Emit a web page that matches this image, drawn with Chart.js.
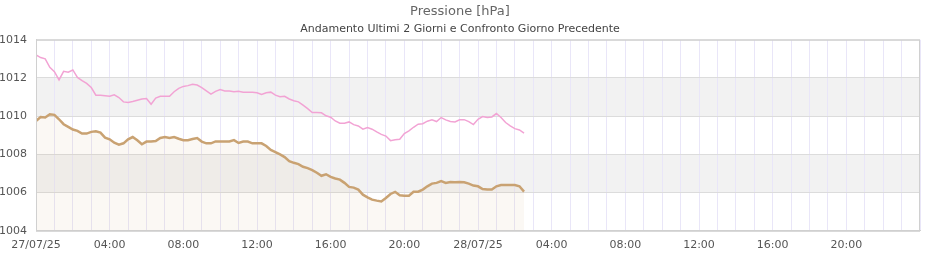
<!DOCTYPE html>
<html>
<head>
<meta charset="utf-8">
<script src="https://cdn.jsdelivr.net/npm/chart.js@4/dist/chart.umd.min.js"></script>
<style>
html,body{margin:0;padding:0;background:#fff}
#wrap{width:940px;height:260px}
</style>
</head>
<body>
<div id="wrap"><canvas id="chart"></canvas></div>
<script>
// pressure samples every 15 min starting 27/07/25 00:00
const STEP_H = 0.25;
const current = [1009.75,1009.96,1009.93,1010.10,1010.07,1009.84,1009.58,1009.44,1009.30,1009.23,
  1009.09,1009.09,1009.18,1009.21,1009.14,1008.88,1008.79,1008.61,1008.51,1008.58,
  1008.79,1008.91,1008.74,1008.53,1008.67,1008.68,1008.70,1008.86,1008.91,1008.86,
  1008.91,1008.82,1008.74,1008.74,1008.81,1008.86,1008.67,1008.58,1008.58,1008.68,
  1008.68,1008.68,1008.68,1008.75,1008.60,1008.67,1008.67,1008.58,1008.58,1008.58,
  1008.44,1008.23,1008.12,1008.00,1007.86,1007.65,1007.56,1007.49,1007.35,1007.28,
  1007.18,1007.04,1006.88,1006.96,1006.82,1006.74,1006.68,1006.51,1006.30,1006.26,
  1006.16,1005.89,1005.75,1005.63,1005.58,1005.54,1005.72,1005.93,1006.04,1005.86,
  1005.84,1005.84,1006.04,1006.05,1006.16,1006.33,1006.47,1006.51,1006.60,1006.51,
  1006.56,1006.54,1006.56,1006.54,1006.47,1006.37,1006.33,1006.19,1006.16,1006.16,
  1006.33,1006.40,1006.40,1006.40,1006.40,1006.33,1006.05];
const previous = [1013.21,1013.07,1013.00,1012.56,1012.33,1011.90,1012.35,1012.30,1012.42,1012.03,
  1011.86,1011.72,1011.50,1011.10,1011.10,1011.07,1011.04,1011.12,1010.98,1010.75,
  1010.72,1010.77,1010.84,1010.90,1010.93,1010.63,1010.95,1011.04,1011.04,1011.04,
  1011.28,1011.46,1011.56,1011.60,1011.67,1011.63,1011.50,1011.33,1011.16,1011.30,
  1011.39,1011.32,1011.32,1011.28,1011.30,1011.26,1011.25,1011.25,1011.23,1011.14,
  1011.23,1011.26,1011.10,1011.02,1011.04,1010.90,1010.81,1010.75,1010.58,1010.40,
  1010.19,1010.19,1010.18,1010.02,1009.95,1009.75,1009.63,1009.63,1009.70,1009.56,
  1009.49,1009.32,1009.40,1009.32,1009.18,1009.05,1008.96,1008.72,1008.77,1008.79,
  1009.09,1009.23,1009.42,1009.58,1009.61,1009.74,1009.81,1009.72,1009.93,1009.81,
  1009.72,1009.70,1009.81,1009.82,1009.72,1009.56,1009.84,1009.98,1009.93,1009.96,
  1010.14,1009.93,1009.67,1009.49,1009.35,1009.28,1009.11];
const yTicks = [1004,1006,1008,1010,1012,1014];
const bands = [[1006,1008],[1010,1012]];
const dayLabels = {0:"27/07/25",24:"28/07/25"};

const pts = arr => arr.map((v,i)=>({x:i*STEP_H,y:v}));

const bandPlugin = {
  id:"bands",
  beforeDraw(c){
    const {ctx,chartArea:a,scales:{y}} = c;
    ctx.save(); ctx.fillStyle="#f2f2f2";
    bands.forEach(b=>{const t=y.getPixelForValue(b[1]),bt=y.getPixelForValue(b[0]);ctx.fillRect(a.left,t,a.right-a.left,bt-t)});
    ctx.restore();
  }
};

new Chart(document.getElementById("chart"),{
  type:"line",
  data:{datasets:[
    {label:"Giorno precedente",data:pts(previous),borderColor:"#f2a3d4",borderWidth:1.5,pointRadius:0,tension:0,fill:false},
    {label:"Pressione",data:pts(current),borderColor:"#c9a272",borderWidth:2.5,pointRadius:0,tension:0,fill:"start",backgroundColor:"rgba(205,165,120,0.08)"}
  ]},
  options:{
    responsive:true,maintainAspectRatio:false,animation:false,
    layout:{padding:{left:0,right:20,top:0,bottom:0}},
    plugins:{
      legend:{display:false},tooltip:{enabled:false},
      title:{display:true,text:"Pressione [hPa]",color:"#666",font:{family:"DejaVu Sans",size:13,weight:"normal"},padding:{top:4,bottom:3}},
      subtitle:{display:true,text:"Andamento Ultimi 2 Giorni e Confronto Giorno Precedente",color:"#444",font:{family:"DejaVu Sans",size:11},padding:{bottom:4}}
    },
    scales:{
      x:{type:"linear",min:0,max:48,
        grid:{color:"#e9e6f8",drawTicks:false},
        border:{color:"#d0d0d0"},
        ticks:{stepSize:1,autoSkip:false,maxRotation:0,padding:8,color:"#555",font:{family:"DejaVu Sans",size:11},
          callback:v=>{if(v%4||v>=48)return "";return dayLabels[v]||(String(v%24).padStart(2,"0")+":00")}}},
      y:{min:1004,max:1014,
        afterBuildTicks:s=>{s.ticks=yTicks.map(v=>({value:v}))},
        afterFit:s=>{s.width=36},
        grid:{color:"#dcdcdc",drawTicks:false},
        border:{color:"#d0d0d0"},
        ticks:{padding:9,color:"#555",font:{family:"DejaVu Sans",size:11},callback:v=>String(v)}}
    }
  },
  plugins:[bandPlugin,{id:"box",afterDraw(c){const {ctx,chartArea:a}=c;ctx.save();ctx.strokeStyle="#d0d0d0";ctx.lineWidth=1;ctx.strokeRect(a.left+0.5,a.top+0.5,a.right-a.left-1,a.bottom-a.top);ctx.restore()}}]
});
</script>
</body>
</html>
